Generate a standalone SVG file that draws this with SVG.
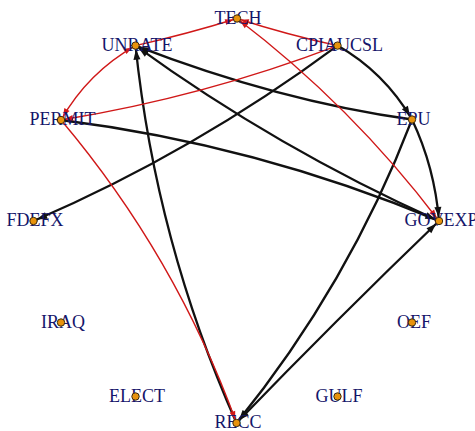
<svg xmlns="http://www.w3.org/2000/svg" width="475" height="431" viewBox="0 0 475 431">
<style>
.lbl{font-family:"Liberation Serif","Times New Roman",serif;font-size:18px;fill:#15156a;text-anchor:middle}
.dot{fill:#e8930c;stroke:#3a2a10;stroke-width:1}
.blk{fill:none;stroke:#111;stroke-width:2.3}
.red{fill:none;stroke:#d01818;stroke-width:1.4}
</style>
<defs>
<marker id="ab" markerUnits="userSpaceOnUse" markerWidth="20" markerHeight="10" refX="14" refY="3.5" orient="auto-start-reverse" overflow="visible">
<path d="M0,0 L10,3.5 L0,7 z" fill="#111"/>
</marker>
<marker id="ar" markerUnits="userSpaceOnUse" markerWidth="20" markerHeight="10" refX="12" refY="3" orient="auto-start-reverse" overflow="visible">
<path d="M0,0 L8,3 L0,6 z" fill="#d01818"/>
</marker>
</defs>
<rect width="475" height="431" fill="#fff"/>
<g id="connectors">
<path class="blk" d="M337.5,45.6 Q384,72 412,119.5" marker-end="url(#ab)"/>
<path class="blk" d="M412,119.5 Q434.7,167.5 439,221" marker-end="url(#ab)"/>
<path class="blk" d="M412,119.5 Q278.5,101 135.5,45.6" marker-end="url(#ab)"/>
<path class="blk" d="M439,221 Q277.5,148.6 135.5,45.6" marker-end="url(#ab)"/>
<path class="blk" d="M61,120 Q256.5,144.5 439,221" marker-end="url(#ab)"/>
<path class="blk" d="M236.5,423 Q156,242 135.5,45.6" marker-end="url(#ab)"/>
<path class="blk" d="M412,119.5 Q348.5,285 236.5,423" marker-end="url(#ab)"/>
<path class="blk" d="M236.5,423 Q336,320 439,221" marker-start="url(#ab)" marker-end="url(#ab)"/>
<path class="blk" d="M337.5,45.6 Q195.5,151 33.5,221" marker-end="url(#ab)"/>
<path class="red" d="M337.5,45.6 Q288,35 237,18.5" marker-end="url(#ar)"/>
<path class="red" d="M237,18.5 Q351.5,105.5 439,221" marker-start="url(#ar)" marker-end="url(#ar)"/>
<path class="red" d="M135.5,45.6 Q187,34 237,18.5" marker-end="url(#ar)"/>
<path class="red" d="M337.5,45.6 Q203,97 61,120" marker-end="url(#ar)"/>
<path class="red" d="M135.5,45.6 Q88,72.5 61,120" marker-start="url(#ar)" marker-end="url(#ar)"/>
<path class="red" d="M61,120 Q175.8,256 236.5,423" marker-end="url(#ar)"/>
</g>
<g id="TECH"><text class="lbl" x="238" y="23.5">TECH</text><circle class="dot" cx="237" cy="18.5" r="3.7"/></g>
<g id="UNRATE"><text class="lbl" x="137" y="50.5">UNRATE</text><circle class="dot" cx="135.5" cy="45.6" r="3.7"/></g>
<g id="CPIAUCSL"><text class="lbl" x="339.5" y="50.5">CPIAUCSL</text><circle class="dot" cx="337.5" cy="45.6" r="3.7"/></g>
<g id="PERMIT"><text class="lbl" x="62.5" y="125">PERMIT</text><circle class="dot" cx="61" cy="120" r="3.7"/></g>
<g id="EPU"><text class="lbl" x="413.5" y="124.5">EPU</text><circle class="dot" cx="412" cy="119.5" r="3.7"/></g>
<g id="FDEFX"><text class="lbl" x="35" y="226">FDEFX</text><circle class="dot" cx="33.5" cy="221" r="3.7"/></g>
<g id="GOVEXP"><text class="lbl" x="441" y="226">GOVEXP</text><circle class="dot" cx="439" cy="221" r="3.7"/></g>
<g id="IRAQ"><text class="lbl" x="63" y="327.5">IRAQ</text><circle class="dot" cx="61" cy="322.5" r="3.7"/></g>
<g id="OEF"><text class="lbl" x="414" y="327.5">OEF</text><circle class="dot" cx="412" cy="322.5" r="3.7"/></g>
<g id="ELECT"><text class="lbl" x="137" y="401.5">ELECT</text><circle class="dot" cx="135.5" cy="396.5" r="3.7"/></g>
<g id="GULF"><text class="lbl" x="339" y="401.5">GULF</text><circle class="dot" cx="337.5" cy="396.5" r="3.7"/></g>
<g id="RECC"><text class="lbl" x="238" y="428">RECC</text><circle class="dot" cx="236.5" cy="423" r="3.7"/></g>
</svg>
